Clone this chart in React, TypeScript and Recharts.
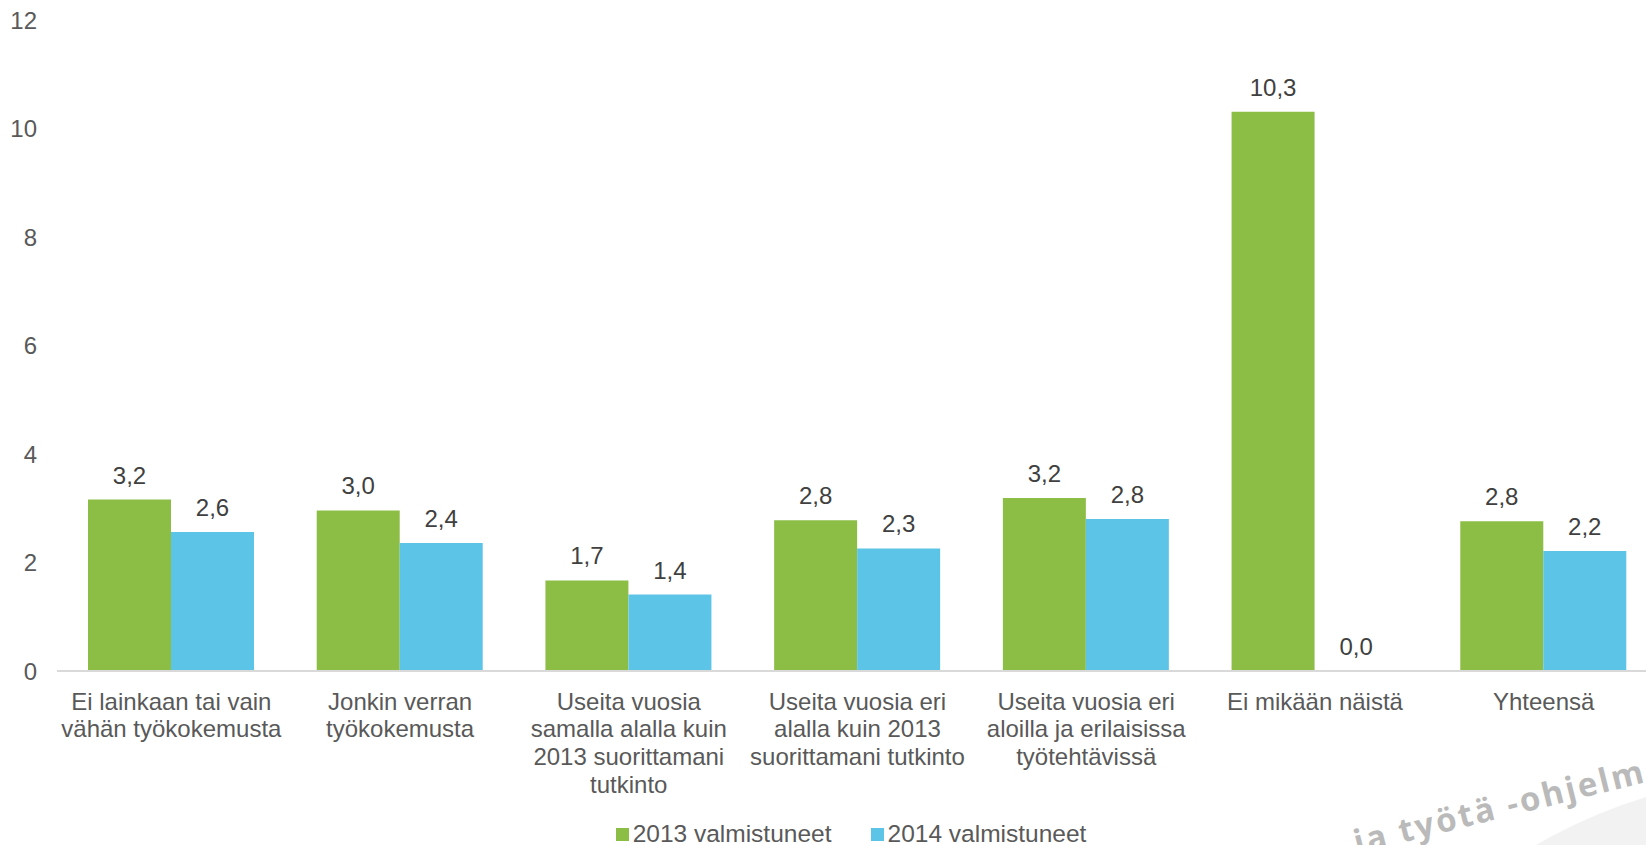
import React from "react";
import { BarChart, Bar, XAxis, YAxis, Legend, LabelList } from "recharts";

const FONT = "'Liberation Sans', Arial, sans-serif";

// category labels, line breaks as in the original
const categories = [
  "Ei lainkaan tai vain\nvähän työkokemusta",
  "Jonkin verran\ntyökokemusta",
  "Useita vuosia\nsamalla alalla kuin\n2013 suorittamani\ntutkinto",
  "Useita vuosia eri\nalalla kuin 2013\nsuorittamani tutkinto",
  "Useita vuosia eri\naloilla ja erilaisissa\ntyötehtävissä",
  "Ei mikään näistä",
  "Yhteensä",
];
const valmistuneet2013 = [3.16, 2.96, 1.67, 2.78, 3.19, 10.31, 2.76];
const valmistuneet2014 = [2.56, 2.36, 1.41, 2.26, 2.8, 0, 2.21];
const yTicks = [0, 2, 4, 6, 8, 10, 12];
const seriesNames = ["2013 valmistuneet", "2014 valmistuneet"];
const colors = ["#8CBD45", "#5CC5E7"];

const data = categories.map((name, i) => ({
  name,
  v2013: valmistuneet2013[i],
  v2014: valmistuneet2014[i],
}));

const CategoryTick = (props: any) => {
  const { x, y, payload } = props;
  const lines = String(payload.value).split("\n");
  return (
    <text x={x} y={y} textAnchor="middle" fill="#595959" fontSize={24} fontFamily={FONT}>
      {lines.map((l, i) => (
        <tspan key={i} x={x} dy={i === 0 ? 38.5 : 27.7}>
          {l}
        </tspan>
      ))}
    </text>
  );
};

const ValueLabel = (props: any) => {
  const { x, y, width, value } = props;
  return (
    <text
      x={Number(x) + Number(width) / 2}
      y={Number(y) - 16}
      textAnchor="middle"
      fill="#404040"
      fontSize={24}
      fontFamily={FONT}
    >
      {Number(value).toFixed(1).replace(".", ",")}
    </text>
  );
};

const renderLegend = () => (
  <div
    style={{
      height: 30,
      boxSizing: "border-box",
      paddingTop: 8,
      paddingLeft: 44,
      display: "flex",
      justifyContent: "center",
      alignItems: "center",
      fontFamily: FONT,
      fontSize: 24.5,
      lineHeight: "24px",
      color: "#595959",
    }}
  >
    {seriesNames.map((n, i) => (
      <div key={n} style={{ display: "flex", alignItems: "center", marginLeft: i ? 39 : 0 }}>
        <span style={{ width: 13, height: 13, background: colors[i], marginRight: 4, display: "inline-block" }} />
        <span>{n}</span>
      </div>
    ))}
  </div>
);

export default function App() {
  return (
    <div
      style={{
        position: "absolute",
        left: 0,
        top: 0,
        width: 1646,
        height: 845,
        overflow: "hidden",
        background: "#fff",
      }}
    >
      <svg
        width={1646}
        height={845}
        style={{ position: "absolute", left: 0, top: 0, pointerEvents: "none" }}
      >
        <circle cx={1800} cy={1300} r={526} fill="#f2f2f2" />
        <text
          x={1357}
          y={854}
          transform="rotate(-14 1357 854)"
          fill="#bababa"
          fontSize={33}
          fontWeight={700}
          letterSpacing={2.5}
          fontFamily="'Open Sans', sans-serif"
        >
          ja työtä -ohjelma
        </text>
      </svg>
      <BarChart
        width={1658}
        height={845}
        data={data}
        margin={{ top: 20, right: 0, left: 0, bottom: 0 }}
        barGap={0}
        style={{ position: "absolute", left: 0, top: 0 }}
      >
        <XAxis
          dataKey="name"
          interval={0}
          height={144}
          tickLine={false}
          tickSize={0}
          tickMargin={0}
          axisLine={{ stroke: "#d9d9d9", strokeWidth: 2 }}
          tick={<CategoryTick />}
        />
        <YAxis
          width={57}
          domain={[0, 12]}
          ticks={yTicks}
          axisLine={false}
          tickLine={false}
          tickSize={0}
          tickMargin={20}
          tick={{ fill: "#595959", fontSize: 24, fontFamily: FONT }}
        />
        <Legend verticalAlign="bottom" content={renderLegend} />
        <Bar dataKey="v2013" name={seriesNames[0]} fill={colors[0]} barSize={83} isAnimationActive={false}>
          <LabelList dataKey="v2013" content={<ValueLabel />} />
        </Bar>
        <Bar
          dataKey="v2014"
          name={seriesNames[1]}
          fill={colors[1]}
          barSize={83}
          minPointSize={0.01}
          isAnimationActive={false}
        >
          <LabelList dataKey="v2014" content={<ValueLabel />} />
        </Bar>
      </BarChart>
    </div>
  );
}
